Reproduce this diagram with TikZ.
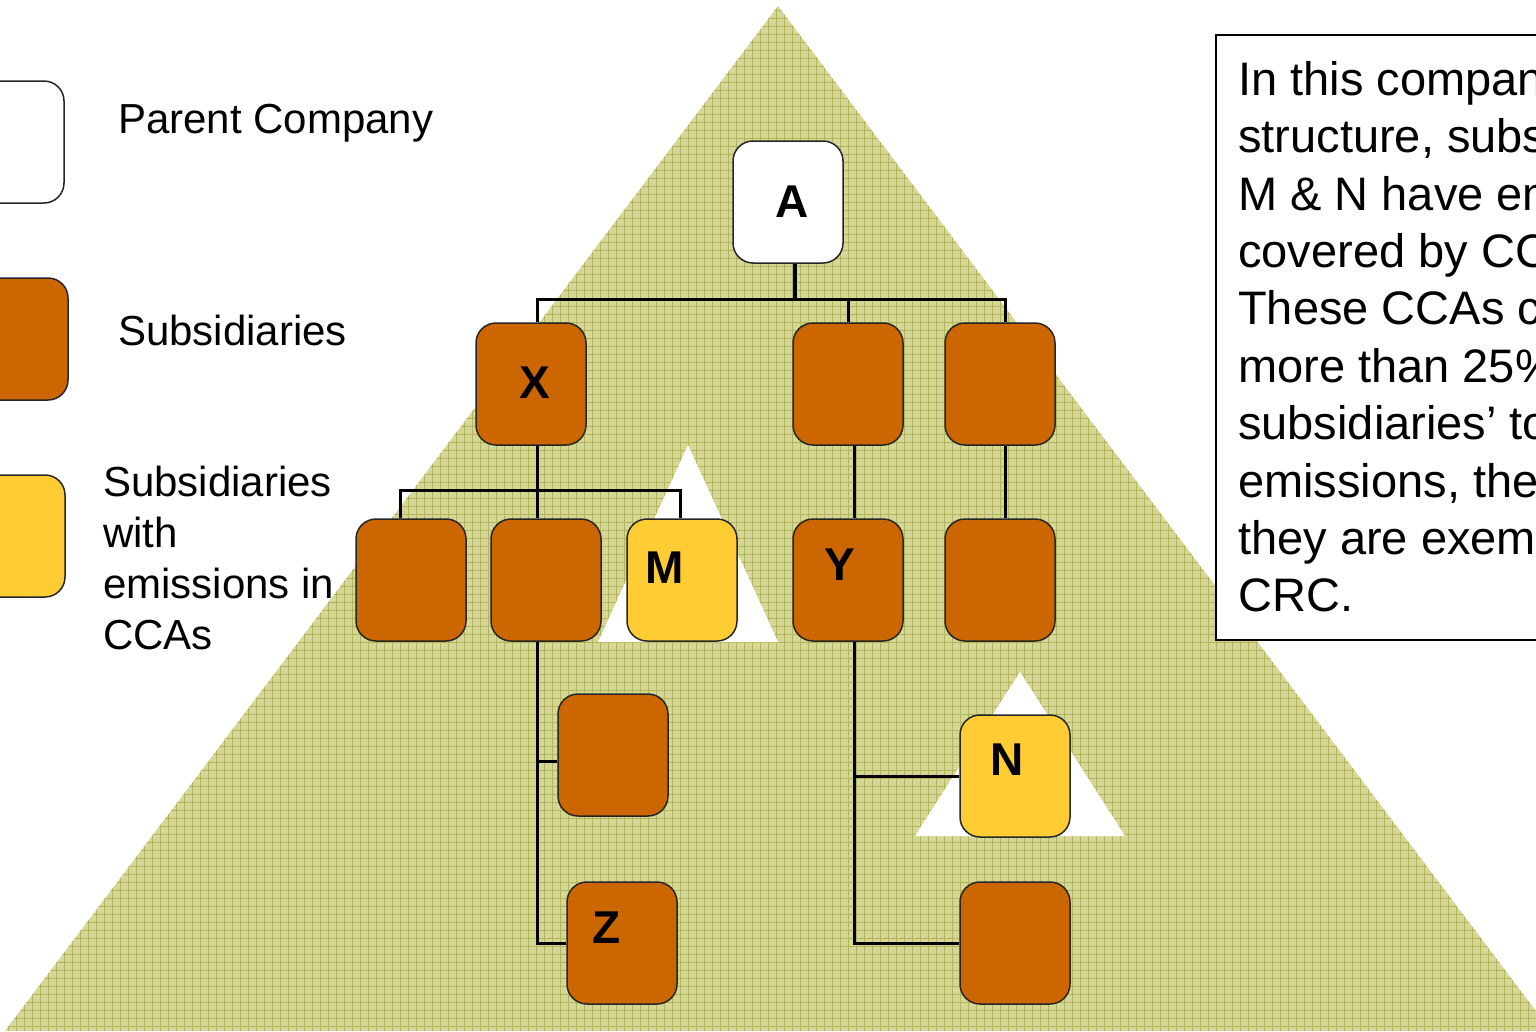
\documentclass[tikz,border=0pt]{standalone}
\usepackage{fontspec}
\setmainfont{Liberation Sans}
\definecolor{subor}{RGB}{204,102,0}
\definecolor{ccay}{RGB}{255,204,51}
\definecolor{trif}{RGB}{212,215,152}
\definecolor{trig}{RGB}{178,182,88}
\pgfdeclarelayer{tri}
\pgfdeclarelayer{lines}
\pgfsetlayers{tri,lines,main}
\begin{document}
\begin{tikzpicture}[x=1pt,y=-1pt,
  box/.style={rounded corners=20pt, draw=black!85, line width=1.5pt,
    minimum width=110pt, minimum height=122pt, inner sep=0pt},
  parent/.style={box, fill=white},
  sub/.style={box, fill=subor},
  cca/.style={box, fill=ccay},
  conn/.style={line width=3pt, black},
  letter/.style={font=\bfseries\fontsize{46}{50}\selectfont, inner sep=0pt},
  legtext/.style={font=\fontsize{42}{51}\selectfont, inner sep=0pt, align=left},
  notetext/.style={font=\fontsize{47}{57.4}\selectfont, inner sep=0pt, align=left}]
\useasboundingbox (0,0) rectangle (1536,1031);
\clip (0,0) rectangle (1536,1031);
% big triangle with grid texture, white triangles
\begin{pgfonlayer}{tri}
\fill[white] (0,0) rectangle (1536,1031);
\begin{scope}
  \clip (778,6) -- (1551,1031) -- (5,1031) -- cycle;
  \fill[trif] (0,0) rectangle (1536,1031);
  \foreach \gx in {0,8,...,1536} \draw[trig, line width=1pt] (\gx,0) -- (\gx,1031);
  \foreach \gy in {2,10,...,1031} \draw[trig, line width=1pt] (0,\gy) -- (1536,\gy);
\end{scope}
\fill[white] (688,445) -- (778,642) -- (598,642) -- cycle;
\fill[white] (1020,672) -- (1125,836) -- (915,836) -- cycle;
\end{pgfonlayer}
% boxes
\node[parent] (a) at (788,202) {};
\node[sub] (x) at (531,384) {};
\node[sub] (b2) at (848,384) {};
\node[sub] (b3) at (1000,384) {};
\node[sub] (r1) at (411,580) {};
\node[sub] (r2) at (546,580) {};
\node[cca] (m) at (682,580) {};
\node[sub] (y) at (848,580) {};
\node[sub] (r5) at (1000,580) {};
\node[sub] (r3) at (613,755) {};
\node[cca] (n) at (1015,776) {};
\node[sub] (z) at (622,943) {};
\node[sub] (br) at (1015,943) {};
% connectors (below the boxes)
\begin{pgfonlayer}{lines}
\coordinate (jA) at (795,299);
\coordinate (at) at ([xshift=7pt]a.south);
\coordinate (xt) at ([xshift=6pt]x.north);
\coordinate (b3t) at ([xshift=5pt]b3.north);
\draw[line width=4.5pt] (at) -- (jA);
\draw[conn] (xt) |- (jA) -| (b3t);
\draw[conn] (b2.north) -- (b2.north |- jA);
\coordinate (xb) at ([xshift=6pt]x.south);
\draw[conn] (xb) -- (xb |- r2.north);
\coordinate (jX) at (537,490);
\coordinate (r1t) at ([xshift=-11pt]r1.north);
\coordinate (mt) at ([xshift=-2pt]m.north);
\draw[conn] (r1t) |- (jX) -| (mt);
\coordinate (r2b) at ([xshift=-9pt]r2.south);
\draw[conn] (r2b) |- (z.west);
\coordinate (r3w) at ([yshift=-6pt]r3.west);
\draw[conn] (r3w) -- (r3w -| r2b);
\coordinate (b2b) at ([xshift=6pt]b2.south);
\draw[conn] (b2b) -- (b2b |- y.north);
\coordinate (b3b) at ([xshift=5pt]b3.south);
\draw[conn] (b3b) -- (b3b |- r5.north);
\coordinate (yb) at ([xshift=6pt]y.south);
\draw[conn] (yb) |- (br.west);
\draw[conn] (n.west) -- (n.west -| yb);
\end{pgfonlayer}
% letters
\node[letter] (la) at (792,202) {A};
\node[letter] (lx) at (535,383) {X};
\node[letter] (lm) at (665,568) {M};
\node[letter] (ly) at (840,565) {Y};
\node[letter] (ln) at (1007,760) {N};
\node[letter] (lz) at (607,928) {Z};
% legend
\node[parent] (kp) at (9,142) {};
\node[sub] (ks) at (13,339) {};
\node[cca] (kc) at (10,536) {};
\node[legtext, anchor=base west] (tp) at (118,133) {Parent Company};
\node[legtext, anchor=base west] (ts) at (118,345) {Subsidiaries};
\node[legtext, anchor=north west] (tc) at (103,466) {Subsidiaries\\with\\emissions in\\CCAs};
% note box (its right part runs off the picture, as in the reference)
\draw[fill=white, line width=2pt] (1216,35) rectangle (1600,640);
\node[notetext, anchor=north west] (note) at (1238,61) {In this company\\structure, subsidiaries\\M \& N have emissions\\covered by CCAs.\\These CCAs cover\\more than 25\% of the\\subsidiaries’ total\\emissions, therefore\\they are exempt from\\CRC.};
\end{tikzpicture}
\end{document}
